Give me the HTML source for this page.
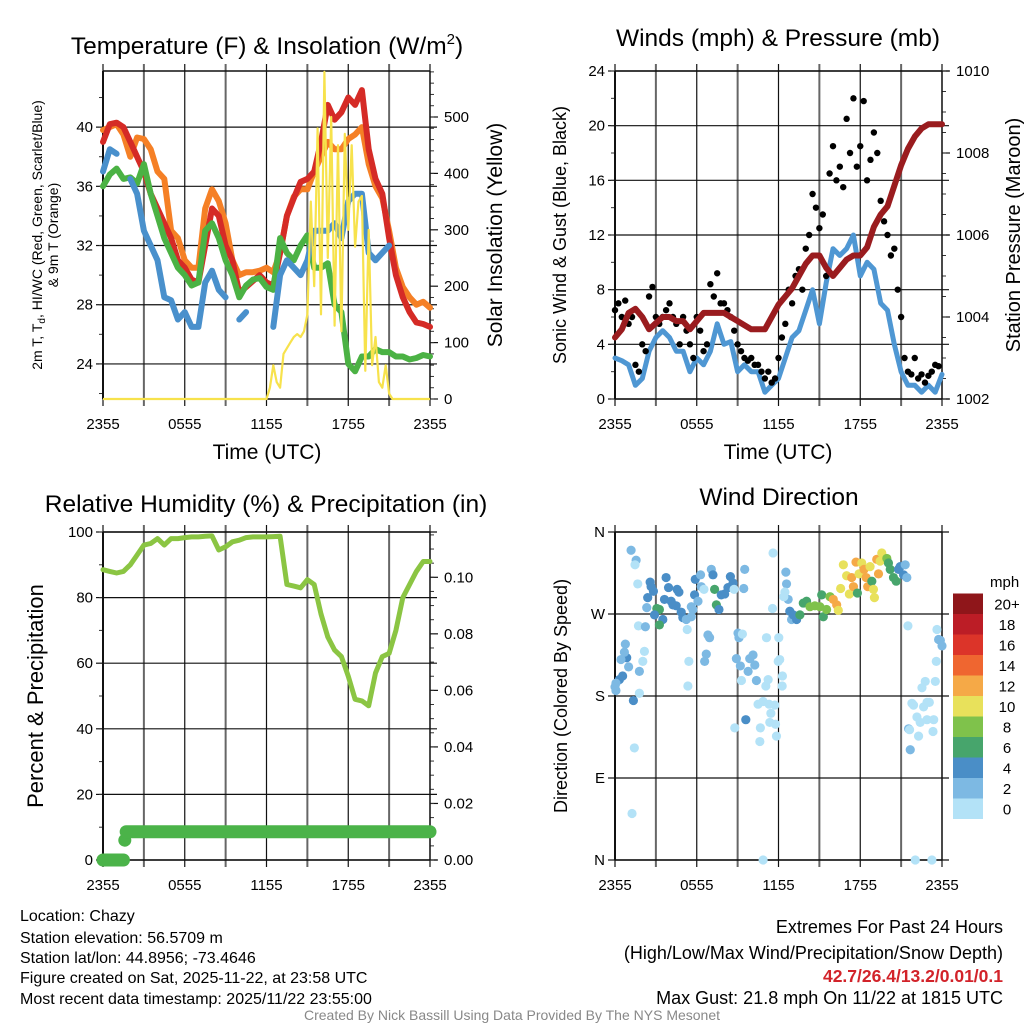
<!DOCTYPE html>
<html><head><meta charset="utf-8"><style>
html,body{margin:0;padding:0;background:#fff;}
svg{display:block;font-family:"Liberation Sans",sans-serif;}
</style></head><body>
<svg id="s" width="1024" height="1024" viewBox="0 0 1024 1024" xmlns="http://www.w3.org/2000/svg">
<g id="static">
<text x="267" y="54" font-size="24.5" text-anchor="middle">Temperature (F) &amp; Insolation (W/m<tspan font-size="15" dy="-10">2</tspan><tspan dy="10">)</tspan></text>
<text x="778" y="46" font-size="24.5" text-anchor="middle">Winds (mph) &amp; Pressure (mb)</text>
<text x="266" y="512" font-size="24.5" text-anchor="middle">Relative Humidity (%) &amp; Precipitation (in)</text>
<text x="779" y="505" font-size="24.5" text-anchor="middle">Wind Direction</text>
<text transform="translate(42,235) rotate(-90)" font-size="14" text-anchor="middle">2m T, T<tspan font-size="10" dy="3">d</tspan><tspan dy="-3">, HI/WC (Red, Green, Scarlet/Blue)</tspan></text>
<text transform="translate(58,235) rotate(-90)" font-size="14" text-anchor="middle">&amp; 9m T (Orange)</text>
<text transform="translate(502,235) rotate(-90)" font-size="21" text-anchor="middle">Solar Insolation (Yellow)</text>
<text x="267" y="459" font-size="21" text-anchor="middle">Time (UTC)</text>
<text x="778" y="459" font-size="21" text-anchor="middle">Time (UTC)</text>
<text transform="translate(566,235) rotate(-90)" font-size="18" text-anchor="middle">Sonic Wind &amp; Gust (Blue, Black)</text>
<text transform="translate(1020,235) rotate(-90)" font-size="20" text-anchor="middle">Station Pressure (Maroon)</text>
<text transform="translate(43,696) rotate(-90)" font-size="22" text-anchor="middle">Percent &amp; Precipitation</text>
<text transform="translate(567,696) rotate(-90)" font-size="18" text-anchor="middle">Direction (Colored By Speed)</text>
<g font-size="16">
<text x="20" y="921">Location: Chazy</text>
<text x="20" y="943">Station elevation: 56.5709 m</text>
<text x="20" y="963">Station lat/lon: 44.8956; -73.4646</text>
<text x="20" y="983">Figure created on Sat, 2025-11-22, at 23:58 UTC</text>
<text x="20" y="1004">Most recent data timestamp: 2025/11/22 23:55:00</text>
</g>
<g font-size="18" text-anchor="end">
<text x="1003" y="933">Extremes For Past 24 Hours</text>
<text x="1003" y="959">(High/Low/Max Wind/Precipitation/Snow Depth)</text>
<text x="1003" y="982" fill="#d2232a" font-weight="bold" font-size="17.5">42.7/26.4/13.2/0.01/0.1</text>
<text x="1003" y="1004">Max Gust: 21.8 mph On 11/22 at 1815 UTC</text>
</g>
<text x="512" y="1020" font-size="14" fill="#888" text-anchor="middle">Created By Nick Bassill Using Data Provided By The NYS Mesonet</text>
</g>
<g id="dyn"></g>
</svg>
<script>
// ---------- data (half-hourly, hours since 2355) ----------
const halfHours = [0,0.5,1,1.5,2,2.5,3,3.5,4,4.5,5,5.5,6,6.5,7,7.5,8,8.5,9,9.5,10,10.5,11,11.5,12,12.5,13,13.5,14,14.5,15,15.5,16,16.5,17,17.5,18,18.5,19,19.5,20,20.5,21,21.5,22,22.5,23,23.5,24];
const tempRed = [39,40.2,40.3,40,39,38,37,35.5,34.5,33.5,32.5,31,30.5,29.7,29.5,32,34.5,34,32,31,28.8,29.2,29.6,30,29.5,29.3,31.5,34,35.2,36.3,36.5,37,39,41.5,40.5,41,42,41.5,42.5,38.5,36.5,35.5,32.5,30,28.5,27.5,26.8,26.7,26.5];
const tempOrange = [39.8,40,40.2,39.5,38,39.3,39.2,38.5,37,36.5,33,32.5,31,30.5,30.5,34.5,35.8,35,33.5,31,30,30.2,30.2,30.3,30.5,30.2,31.5,34,35.3,35.8,35.8,37,38,39,38.5,38.5,39.2,39.5,40,37.5,36,35.2,33,30.5,29.2,28.5,28,28.2,27.8];
const tempGreen = [36,36.8,37.2,36.5,36.6,36.2,37.5,35.5,34,32.5,31.5,30.5,30,29.3,29.5,33,33.5,32.5,31,30,28.5,29.3,29.7,29.8,29.2,29,32.5,31.5,31,32,32.7,30.5,30.5,30.8,28,27.5,24,23.5,24.5,24.5,25,24.8,24.8,24.5,24.5,24.3,24.4,24.6,24.5];
const tempBlue = [37,38.5,38.2,null,36.5,35.5,33,32,31,28.5,28.3,27,27.5,26.5,26.5,29.5,30.3,29,28.5,null,27,27.5,null,null,null,26.5,30,31,30.5,30,31,33,33,33,33.5,32.5,35,35.5,35.5,31.5,31,31.5,32,null,null,null,null,null,26];
const solarHours = [0,12,12.25,12.5,12.75,13,13.25,13.5,13.75,14,14.25,14.5,14.75,15,15.25,15.5,15.75,16,16.25,16.5,16.75,17,17.25,17.5,17.75,18,18.25,18.5,18.75,19,19.25,19.5,19.75,20,20.25,20.5,20.75,21,21.25,24];
const solarVals = [0,0,20,60,30,20,80,90,100,110,115,110,120,150,350,200,480,150,580,250,500,130,450,120,470,300,450,270,350,360,50,300,60,110,30,20,60,10,0,0];
const windVals = [3,2.8,2.5,1,1.5,3.5,4.5,5,4.5,3.5,3.5,2,3,2.5,3.5,5.5,4,4.2,2,2.5,2,2,0.5,1,1.5,3,4.5,5,6.5,8,5.5,8.5,11,10.5,11,12,9,10,9.5,7,6.5,4,2,1,1,0.5,1,0.5,1.8];
const pressureVals = [1003.5,1003.7,1004.1,1004.2,1004.0,1003.7,1003.85,1004.0,1004.0,1003.9,1003.9,1003.7,1003.9,1004.1,1004.1,1004.1,1004.1,1004.0,1003.9,1003.8,1003.7,1003.7,1003.7,1004.0,1004.3,1004.5,1004.7,1005.0,1005.3,1005.5,1005.5,1005.2,1005.0,1005.2,1005.4,1005.5,1005.5,1005.7,1006.2,1006.5,1006.7,1007.2,1007.7,1008.1,1008.4,1008.6,1008.7,1008.7,1008.7];
const gustVals = [6.5,7,6,7.2,5.5,6,2.5,2,4,3.5,7.5,8.2,6,5.5,6,6.5,7,6,5.5,4,6,5,4,3,6,5,3.5,4,8.4,7.5,9.2,7,7,6.5,6,5,4,3.5,3,2.8,3,2.5,2.5,2,1.5,2,1.2,1.5,3,4.5,5.5,8,7,9,9.5,8,11,12,15,14,12.5,13.5,9,16.5,18.5,16,17,15.5,20.5,18,22,17,18.5,21.8,16,17.5,19.5,18,14.5,13,12,10.5,11,8,6,3,2,1.8,3,1.5,1.8,1.2,1.7,2,2.5,2.4];
const rhVals = [88.5,88,87.5,88,90,93,96,96.5,98,96,98,98,98.3,98.5,98.5,98.7,98.8,94.5,95.5,97,97.5,98.3,98.5,98.5,98.5,98.6,98.7,84,83.5,83,85.5,84,75,68,64,62,56,49,48.5,47,57,62,63,70,80,84,88,91,91];
const precipStart = [0,1.6,1.7];
const precipEnd = [1.5,1.6,24];
const precipVal = [0,0.007,0.01];
const dirHours = [1.18,1.55,1.47,1.67,1.72,2.23,2.33,2.4,2.58,2.65,2.82,3.07,3.26,2.9,3.51,3.26,3.75,3.93,3.63,4.12,4.25,4.49,4.56,4.69,4.86,4.98,5.23,5.3,5.6,5.72,5.6,5.89,5.84,6.09,6.28,6.33,6.53,7.07,7.19,7.31,7.44,7.63,7.8,8.05,8.29,8.47,8.66,8.74,9.52,9.45,6.82,6.94,6.7,6.58,5.42,5.35,1.79,2.04,2.16,1.79,1.42,1.25,1.35,1.0,0.86,0.76,0.69,0.44,0.56,0.32,0.07,0.0,0.07,9.03,9.1,9.35,8.91,9.2,9.89,10.13,10.26,9.77,10.38,9.28,8.79,9.6,11.12,11.24,11.07,10.5,10.87,11.31,11.73,11.44,11.36,11.78,10.63,11.85,10.67,10.87,11.6,11.56,12.02,12.09,11.98,12.29,12.27,12.54,12.59,12.47,12.71,12.39,12.83,12.96,13.08,13.33,13.57,13.82,14.06,14.31,14.67,15.04,15.17,15.29,15.53,15.78,16.02,16.27,16.39,16.56,16.76,17.0,17.2,17.37,17.5,17.69,17.79,17.91,18.11,18.28,18.43,18.55,18.72,18.85,18.97,19.04,19.21,19.34,19.46,19.58,19.95,20.07,20.2,20.44,20.64,20.81,20.93,21.18,21.3,21.42,21.5,21.55,21.67,21.79,21.91,22.16,22.28,22.4,22.53,22.77,22.65,22.9,23.07,22.9,23.39,23.34,23.51,23.58,23.63,23.75,23.88,24.0,22.04,23.26,21.62];
const dirDeg = [340,329,324,303,257,256,277,288,305,300,295,276,275,269,264,258,310,299,286,284,280,279,297,294,272,266,264,253,267,275,278,308,291,284,313,300,297,319,313,297,280,275,291,292,299,311,304,297,319,298,247,244,226,218,218,191,183,218,229,207,123,51,175,212,222,237,228,220,202,198,194,190,186,249,244,248,221,213,221,225,214,207,197,197,145,154,244,198,191,171,174,171,170,161,151,149,130,136,145,0,337,276,244,220,218,202,191,316,303,294,286,289,273,264,269,264,269,282,284,278,279,278,291,267,275,289,286,280,274,298,324,312,292,310,300,327,293,314,326,319,310,300,322,306,297,288,330,314,328,337,331,326,319,310,306,319,322,313,324,310,257,144,121,172,170,157,136,151,189,196,168,173,173,154,154,141,196,218,253,242,241,235,0,0,143];
const dirSpeed = [3,3,1,1,1,3,3,5,5,5,5,7,7,5,5,7,5,5,5,5,5,5,5,5,5,5,3,1,3,3,3,5,5,3,3,3,1,3,5,7,7,5,5,5,5,5,5,1,3,3,3,3,3,3,1,1,1,1,1,3,1,1,5,3,5,3,3,3,5,5,3,3,3,3,3,1,3,3,3,3,3,3,3,1,1,5,1,1,1,1,1,1,1,1,1,1,1,1,1,1,1,1,1,1,1,1,1,3,3,1,3,1,5,3,5,5,7,7,7,9,9,9,7,7,9,9,13,13,11,11,11,11,11,13,13,13,7,11,11,13,13,13,11,7,11,11,13,13,11,11,9,7,7,7,7,5,5,5,3,3,1,3,3,1,1,1,1,1,1,1,1,1,1,1,1,1,1,1,1,3,3,3,1,1,1];
const legendLabels = ["0","2","4","6","8","10","12","14","16","18","20+"];
const legendColors = ["#b3e2f7","#7db9e3","#4a8ec7","#47a56c","#7fc24b","#e8e15b","#f5a947","#ef6630","#dc3429","#bc1d26","#8f161a"];
const timeLabels = ["2355","0555","1155","1755","2355"];

// ---------- helpers ----------
const NS="http://www.w3.org/2000/svg";
const dyn=document.getElementById('dyn');
function mk(tag,attrs,parent){const e=document.createElementNS(NS,tag);for(const k in attrs)e.setAttribute(k,attrs[k]);(parent||dyn).appendChild(e);return e;}
function txt(x,y,s,size,anchor,parent){const t=mk('text',{x:x,y:y,'font-size':size,'text-anchor':anchor},parent);t.textContent=s;return t;}
const X0L=103,X1L=430,X0R=615,X1R=942;
const xL=h=>X0L+h/24*(X1L-X0L);
const xR=h=>X0R+h/24*(X1R-X0R);

function frame(x0,x1,top,bot,name,yTicks,yfn,fmt,yMinor,rTicks,rfn,rfmt,rMinor,xfn,showXLabels,hGrid){
  const g=mk('g',{});
  
  
  for(let h=0;h<=24;h+=3){
    const x=xfn(h);
    const l=mk('line',{x1:x,y1:top-7,x2:x,y2:bot+7,stroke:(h%6===0)?'#111':'#666','stroke-width':(h%6===0)?1.2:2},g);
    
    
  }
  yTicks.forEach(v=>{const y=yfn(v);
    if(hGrid){const l=mk('line',{x1:x0,y1:y,x2:x1+7,y2:y,stroke:'#111','stroke-width':1.2},g);
    
    }
    mk('line',{x1:x0-7,y1:y,x2:x0,y2:y,stroke:'#111','stroke-width':1.2},g);
    const t=txt(x0-10,y+5,fmt(v),15,'end',g);
    
    
  });
  yMinor.forEach(v=>{const y=yfn(v);mk('line',{x1:x0-4,y1:y,x2:x0,y2:y,stroke:'#333','stroke-width':1},g);});
  if(rTicks){
    rTicks.forEach(v=>{const y=rfn(v);
      mk('line',{x1:x1,y1:y,x2:x1+8,y2:y,stroke:'#111','stroke-width':1.2},g);
      const t=txt(x1+14,y+5,rfmt(v),15,'start',g);
      
      
    });
    rMinor.forEach(v=>{const y=rfn(v);if(y>=top-1)mk('line',{x1:x1,y1:y,x2:x1+4,y2:y,stroke:'#333','stroke-width':1},g);});
  }
  mk('line',{x1:x0,y1:top,x2:x1,y2:top,stroke:'#111','stroke-width':1.4},g);
  mk('line',{x1:x0,y1:bot,x2:x1,y2:bot,stroke:'#111','stroke-width':1.4},g);
  mk('line',{x1:x0,y1:top,x2:x0,y2:bot,stroke:'#111','stroke-width':2},g);
  mk('line',{x1:x1,y1:top,x2:x1,y2:bot,stroke:'#111','stroke-width':1.4},g);
  if(showXLabels){
    timeLabels.forEach((s,i)=>{const t=txt(xfn(i*6),bot+30,s,15,'middle',g);
      
      });
  }
  return g;
}
function range(a,b,s){const r=[];for(let v=a;v<=b+1e-9;v+=s)r.push(+v.toFixed(4));return r;}
function pathFrom(xs,ys,xf,yf){let d='',pen=false;for(let i=0;i<xs.length;i++){if(ys[i]===null||ys[i]===undefined){pen=false;continue;}d+=(pen?'L':'M')+xf(xs[i]).toFixed(1)+','+yf(ys[i]).toFixed(1);pen=true;}return d;}

// ---------- panel 1: temperature ----------
const yT=v=>399-(v-21.63)*14.8;
const yS=v=>399-v*0.564;
frame(X0L,X1L,71,399,'temperature',[24,28,32,36,40],yT,v=>String(v),range(22,42,2),[0,100,200,300,400,500],yS,v=>String(v),range(0,580,20),xL,true,true);
const tg=mk('g',{});


const s1=mk('path',{d:pathFrom(halfHours,tempOrange,xL,yT),fill:'none',stroke:'#f58026','stroke-width':6,'stroke-linejoin':'round','stroke-linecap':'round'},tg);


const s2=mk('path',{d:pathFrom(halfHours,tempRed,xL,yT),fill:'none',stroke:'#d52b26','stroke-width':6,'stroke-linejoin':'round','stroke-linecap':'round'},tg);


const s3=mk('path',{d:pathFrom(halfHours,tempGreen,xL,yT),fill:'none',stroke:'#4bb244','stroke-width':6,'stroke-linejoin':'round','stroke-linecap':'round'},tg);


const s4=mk('path',{d:pathFrom(halfHours,tempBlue,xL,yT),fill:'none',stroke:'#4990cc','stroke-width':6,'stroke-linejoin':'round','stroke-linecap':'round'},tg);


const s5=mk('path',{d:pathFrom(solarHours,solarVals,xL,yS),fill:'none',stroke:'#f7e24c','stroke-width':2.2,'stroke-linejoin':'round'},tg);



// ---------- panel 2: winds ----------
const yW=v=>399-v*(328/24);
const yP=v=>399-(v-1002)*41;
frame(X0R,X1R,71,399,'winds',[0,4,8,12,16,20,24],yW,v=>String(v),range(0,24,2),[1002,1004,1006,1008,1010],yP,v=>String(v),range(1002,1010,0.5),xR,true,true);
const wg=mk('g',{});


const w1=mk('path',{d:pathFrom(halfHours,windVals,xR,yW),fill:'none',stroke:'#4f97d3','stroke-width':5,'stroke-linejoin':'round','stroke-linecap':'round'},wg);


gustVals.forEach((v,i)=>{
  const c=mk('circle',{cx:xR(i*0.25),cy:yW(v),r:3.2,fill:'#000'},wg);
  
  
});
const w2=mk('path',{d:pathFrom(halfHours,pressureVals,xR,yP),fill:'none',stroke:'#9a1c1f','stroke-width':6,'stroke-linejoin':'round','stroke-linecap':'round'},wg);



// ---------- panel 3: RH & precip ----------
const yRH=v=>860-v*3.28;
const yPr=v=>860-v*2827;
frame(X0L,X1L,532,860,'humidity',[0,20,40,60,80,100],yRH,v=>String(v),range(0,100,10),[0,0.02,0.04,0.06,0.08,0.10],yPr,v=>v.toFixed(2),range(0,0.115,0.005),xL,true,true);
const hg=mk('g',{});


const r1=mk('path',{d:pathFrom(halfHours,rhVals,xL,yRH),fill:'none',stroke:'#8bc543','stroke-width':5,'stroke-linejoin':'round','stroke-linecap':'round'},hg);


precipVal.forEach((v,i)=>{
  const p=mk('line',{x1:xL(precipStart[i]),y1:yPr(v),x2:xL(precipEnd[i]),y2:yPr(v),stroke:'#4bb349','stroke-width':13,'stroke-linecap':'round'},hg);
  
  
});

// ---------- panel 4: wind direction ----------
const yD=v=>860-v*(328/360);
const dirLabels=['N','E','S','W','N'];
frame(X0R,X1R,532,860,'direction',[0,90,180,270,360],yD,v=>dirLabels[v/90],[],null,null,null,null,xR,true,true);
const dg=mk('g',{});


function spdColor(s){let i=Math.floor(s/2);if(i>10)i=10;if(i<0)i=0;return legendColors[i];}
dirHours.forEach((h,i)=>{
  const c=mk('circle',{cx:xR(h),cy:yD(dirDeg[i]),r:4.6,fill:spdColor(dirSpeed[i])},dg);
  
  
});
const lg=mk('g',{});


const lt=txt(990,587,'mph',15,'start',lg);


legendLabels.forEach((s,i)=>{
  const y=819-(i+1)*20.5;
  const r=mk('rect',{x:953,y:y,width:30,height:20.5,fill:legendColors[i]},lg);
  
  
  const t=txt(1007,y+16,s,15,'middle',lg);
  
  
});
</script>
</body></html>
